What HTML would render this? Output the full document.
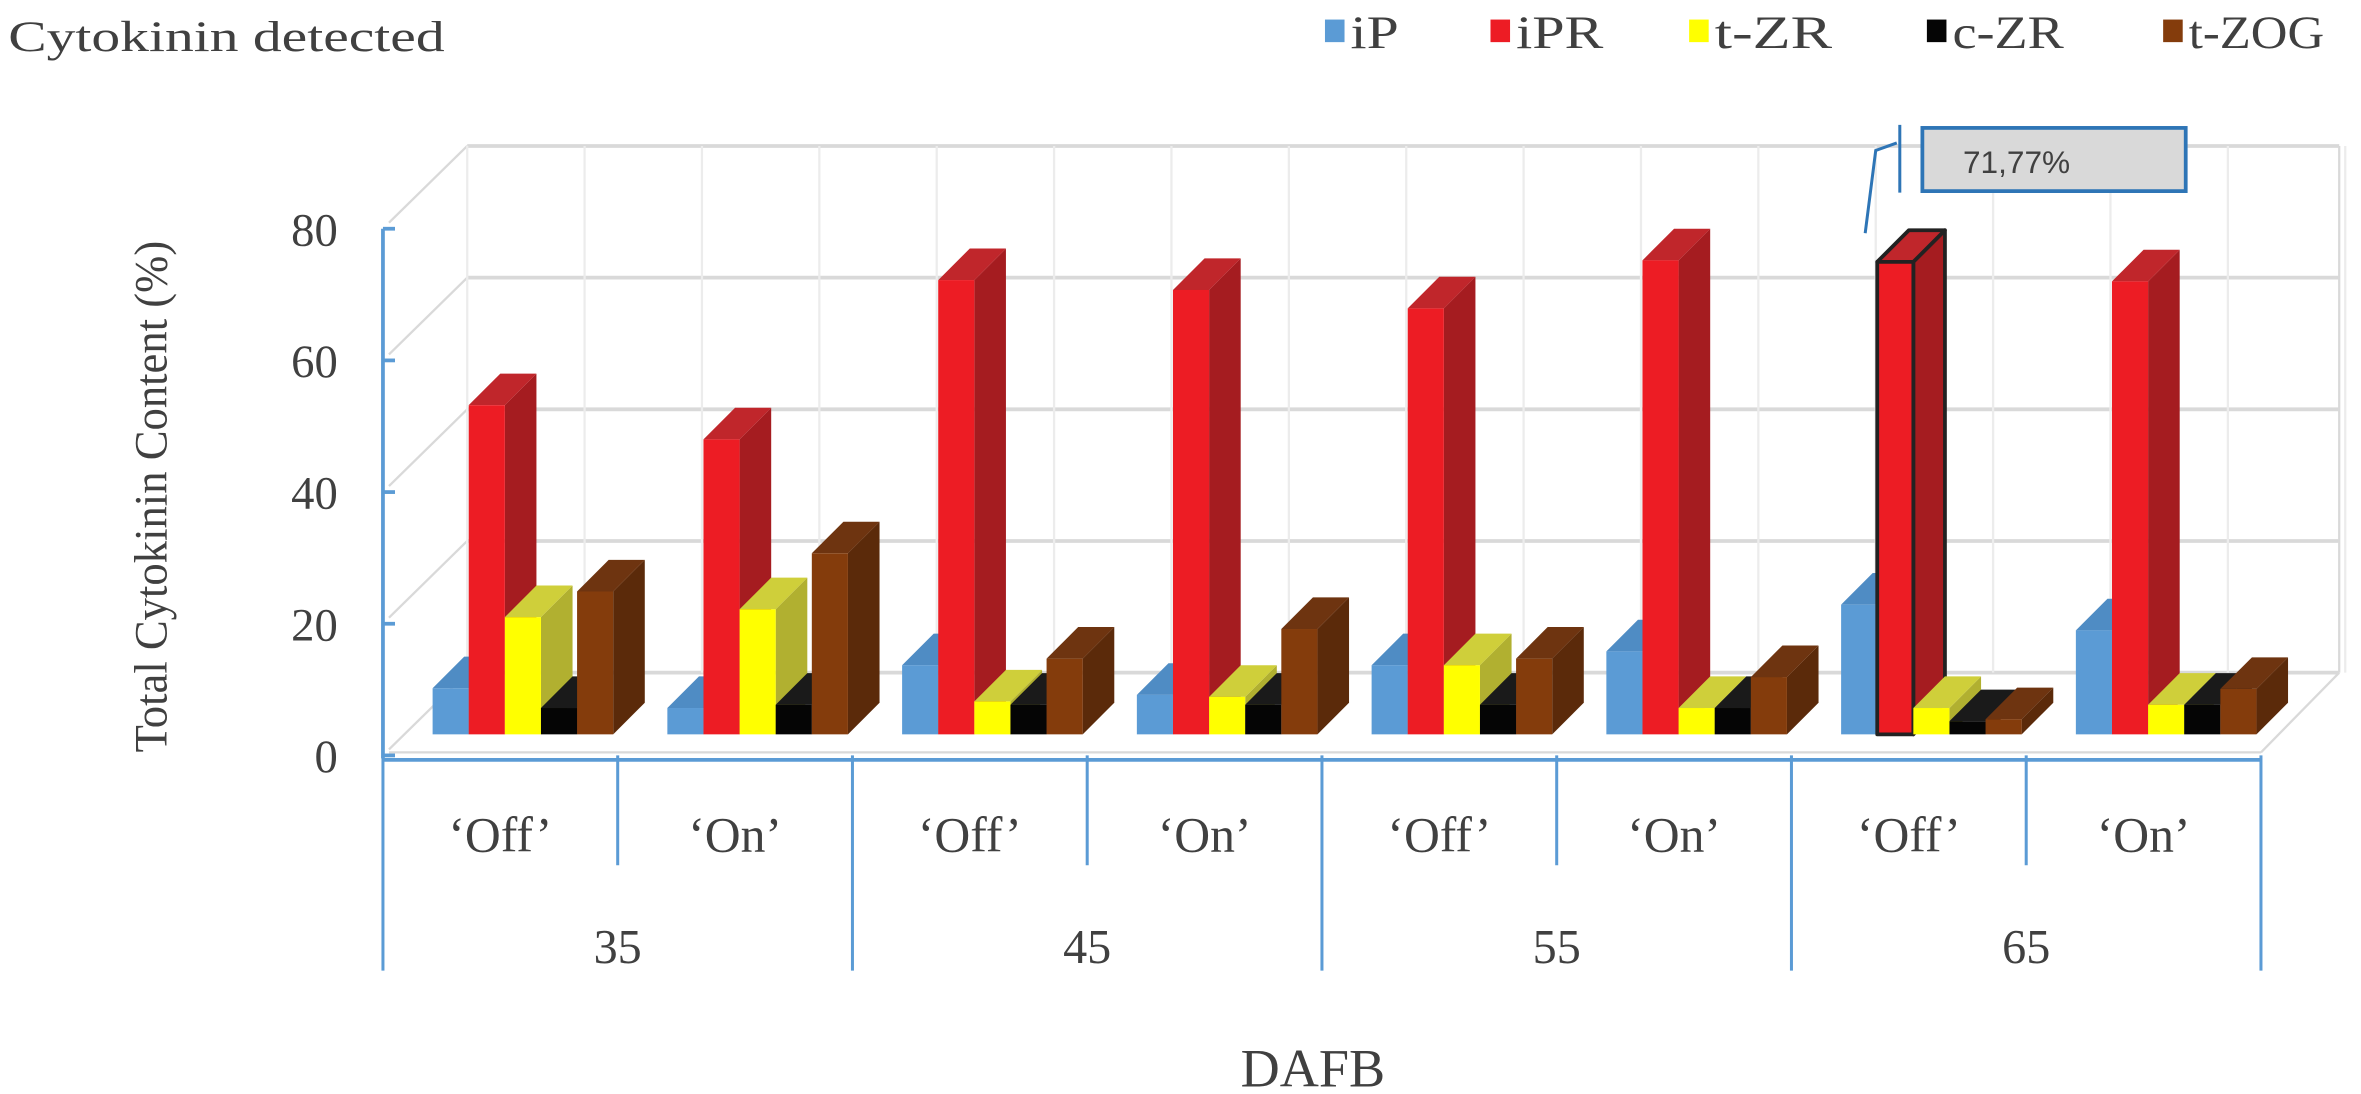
<!DOCTYPE html>
<html><head><meta charset="utf-8">
<style>
html,body{margin:0;padding:0;background:#fff;}
svg{display:block;}
text{font-family:"Liberation Serif",serif;fill:#404040;}
</style></head>
<body>
<svg id="chart" width="2361" height="1094" viewBox="0 0 1568 727" xmlns="http://www.w3.org/2000/svg">
<text x="5" y="34" font-size="29" textLength="290" lengthAdjust="spacingAndGlyphs">Cytokinin detected</text>
<text transform="translate(110,330) rotate(-90)" text-anchor="middle" font-size="31" textLength="340" lengthAdjust="spacingAndGlyphs">Total Cytokinin Content (%)</text>
<text x="872" y="722" text-anchor="middle" font-size="36">DAFB</text>
<g id="grid"></g>
<g id="bars"></g>
<g id="axes"></g>
<g id="legend"></g>
<g>
<polyline points="1239,155 1246,100 1260,95" fill="none" stroke="#2e75b6" stroke-width="2"/>
<line x1="1262" y1="83" x2="1262" y2="128" stroke="#2e75b6" stroke-width="2"/>
<rect x="1277" y="85" width="175" height="42" fill="#d9d9d9" stroke="#2e75b6" stroke-width="2.5"/>
<text x="1304" y="115" font-size="21" style="font-family:'Liberation Sans',sans-serif" fill="#222">71,77%</text>
</g>
</svg>
<script>
const seriesNames = ["iP","iPR","t-ZR","c-ZR","t-ZOG"];
const categories = ["'Off'","'On'","'Off'","'On'","'Off'","'On'","'Off'","'On'"];
const groups = ["35","45","55","65"];
const iP   = [7, 4, 10.5, 6, 10.5, 12.6, 19.7, 15.8];
const iPR  = [50, 44.8, 69, 67.5, 64.7, 72, 71.77, 68.8];
const tZR  = [17.8, 19, 5, 5.7, 10.5, 4, 4, 4.5];
const cZR  = [4, 4.5, 4.5, 4.5, 4.5, 4, 2, 4.5];
const tZOG = [21.7, 27.5, 11.5, 16, 11.5, 8.7, 2.3, 6.9];
const yTicks = [0, 20, 40, 60, 80];

const NS = "http://www.w3.org/2000/svg";
const series = [iP, iPR, tZR, cZR, tZOG];
const colors = [
  {f:"#5b9bd5", s:"#41719c", t:"#4f8cc4"},
  {f:"#ed1c24", s:"#a51c20", t:"#c0262b"},
  {f:"#ffff00", s:"#b1b030", t:"#cfcf3a"},
  {f:"#050505", s:"#111111", t:"#1a1a1a"},
  {f:"#843c0c", s:"#5b2a0a", t:"#6e3410"}
];
const x0 = 254, x1 = 1502, catW = (x1 - x0) / categories.length;
const yFront0 = 502, pxPerUnit = 87.5 / 20;
const dX = 52, dY = -55;
const barBase = 488, bw = 24, dep = 21;
function yFront(v){ return yFront0 - v * pxPerUnit; }
function yBar(v){ return barBase - v * pxPerUnit; }
function mk(tag, attrs, parent){ const e = document.createElementNS(NS, tag); for (const k in attrs) e.setAttribute(k, attrs[k]); parent.appendChild(e); return e; }

const grid = document.getElementById("grid");
yTicks.forEach(t => {
  const yb = yFront(t) + dY;
  const l = mk("line", {x1: x0 + dX + 4, y1: yb, x2: x1 + dX, y2: yb, stroke: "#d9d9d9", "stroke-width": 2.5}, grid);
  
  
  mk("line", {x1: x0 + 4, y1: yFront(t) - 4, x2: x0 + dX + 4, y2: yb, stroke: "#d9d9d9", "stroke-width": 1.5}, grid);
});
for (let i = 0; i <= categories.length * 2; i++) {
  const xv = x0 + dX + 4 + i * catW / 2;
  mk("line", {x1: xv, y1: yFront(80) + dY, x2: xv, y2: yFront(0) + dY, stroke: "#ececec", "stroke-width": 1.5}, grid);
}
mk("line", {x1: x0 + 4, y1: yFront0 - 2, x2: x1, y2: yFront0 - 2, stroke: "#d9d9d9", "stroke-width": 1.5}, grid);
mk("line", {x1: x1, y1: yFront0 - 2, x2: x1 + dX, y2: yFront0 + dY, stroke: "#d9d9d9", "stroke-width": 1.5}, grid);
mk("line", {x1: x1 + dX, y1: yFront(80) + dY, x2: x1 + dX, y2: yFront0 + dY, stroke: "#d9d9d9", "stroke-width": 1.5}, grid);

const barsG = document.getElementById("bars");
categories.forEach((c, ci) => {
  series.forEach((arr, si) => {
    const v = arr[ci];
    const xl = x0 + ci * catW + 33 + si * bw;
    const yt = yBar(v);
    const col = colors[si];
    const g = mk("g", {}, barsG);
    
    
    const hl = (si === 1 && ci === 6);
    const st = hl ? {stroke: "#222", "stroke-width": 2.5, "stroke-linejoin": "round"} : {};
    mk("polygon", Object.assign({points: `${xl+bw},${yt} ${xl+bw+dep},${yt-dep} ${xl+bw+dep},${barBase-dep} ${xl+bw},${barBase}`, fill: col.s}, st), g);
    mk("polygon", Object.assign({points: `${xl},${yt} ${xl+dep},${yt-dep} ${xl+bw+dep},${yt-dep} ${xl+bw},${yt}`, fill: col.t}, st), g);
    mk("rect", Object.assign({x: xl, y: yt, width: bw, height: barBase - yt, fill: col.f}, st), g);
  });
});

const axes = document.getElementById("axes");
const blue = "#5b9bd5";
mk("line", {x1: x0, y1: yFront(80), x2: x0, y2: yFront0 + 2, stroke: blue, "stroke-width": 2.5}, axes);
yTicks.forEach(t => {
  mk("line", {x1: x0, y1: yFront(t), x2: x0 + 8, y2: yFront(t), stroke: blue, "stroke-width": 2.5}, axes);
  const tx = mk("text", {x: 224, y: yFront(t) + 11, "text-anchor": "end", "font-size": 31}, axes);
  tx.textContent = t;
  
  
});
mk("line", {x1: x0, y1: yFront0 + 3, x2: x1, y2: yFront0 + 3, stroke: blue, "stroke-width": 2.5}, axes);
for (let i = 0; i <= categories.length; i++) {
  const xv = x0 + i * catW;
  const outer = i % 2 === 0;
  mk("line", {x1: xv, y1: yFront0, x2: xv, y2: outer ? 645 : 575, stroke: blue, "stroke-width": 2}, axes);
}
categories.forEach((c, ci) => {
  const tx = mk("text", {x: x0 + (ci + 0.5) * catW, y: 566, "text-anchor": "middle", "font-size": 33}, axes);
  tx.textContent = ci % 2 === 0 ? "\u2018Off\u2019" : "\u2018On\u2019";
  
  
});
groups.forEach((gname, gi) => {
  const tx = mk("text", {x: x0 + (gi + 0.5) * catW * 2, y: 640, "text-anchor": "middle", "font-size": 32}, axes);
  tx.textContent = gname;
  
  
});

const legend = document.getElementById("legend");
const legX = [880, 990, 1122, 1280, 1437];
const legW = [32, 58, 78, 74, 90];
seriesNames.forEach((n, i) => {
  const g = mk("g", {}, legend);
  
  
  mk("rect", {x: legX[i], y: 13, width: 13, height: 15, fill: colors[i].f}, g);
  const tx = mk("text", {x: legX[i] + 17, y: 32, "font-size": 31, textLength: legW[i], lengthAdjust: "spacingAndGlyphs"}, g);
  tx.textContent = n;
});
</script>
</body></html>
